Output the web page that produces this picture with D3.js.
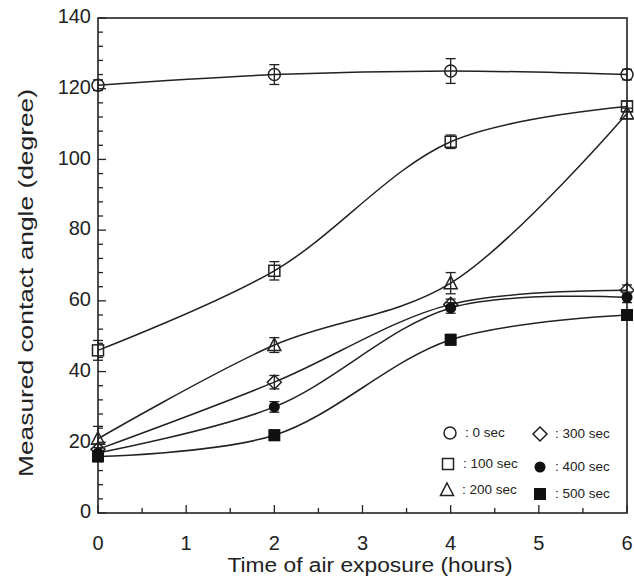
<!DOCTYPE html>
<html><head><meta charset="utf-8">
<script src="https://cdn.jsdelivr.net/npm/d3@7"></script>
<style>body{margin:0;background:#fff}svg{display:block}text{font-family:"Liberation Sans",Arial,sans-serif;fill:#222}</style>
</head><body><svg id="c" width="634" height="577"></svg>
<script>
const hours = [0, 2, 4, 6];
const seriesNames = ["0 sec", "100 sec", "200 sec", "300 sec", "400 sec", "500 sec"];
const s0   = [121, 124, 125, 124];
const s100 = [46, 68.5, 105, 115];
const s200 = [21, 47.5, 65, 113];
const s300 = [18, 37, 59, 63];
const s400 = [17, 30, 58, 61];
const s500 = [16, 22, 49, 56];
const e0   = [1.5, 2.8, 3.5, 1.5];
const e100 = [2.8, 2.6, 1.9, 1.5];
const e200 = [3.5, 2.1, 3, 1.5];
const e300 = [1.5, 1.9, 1.5, 1.5];
const e400 = [1.5, 1.5, 1.5, 1.5];
const e500 = [1.5, 1.5, 1.5, 1.5];
const xTicks = [0, 1, 2, 3, 4, 5, 6];
const yTicks = [0, 20, 40, 60, 80, 100, 120, 140];

const values = [s0, s100, s200, s300, s400, s500];
const errs = [e0, e100, e200, e300, e400, e500];
const markers = ["circle", "square", "triangle", "diamond", "dot", "fsquare"];

const svg = d3.select("#c");
const L = 98, R = 627, T = 18, B = 513;
const x = d3.scaleLinear().domain([0, 6]).range([L, R]);
const y = d3.scaleLinear().domain([0, 140]).range([B, T]);
const ink = "#222";

svg.append("rect").attr("x", L).attr("y", T).attr("width", R - L).attr("height", B - T)
  .attr("fill", "none").attr("stroke", ink).attr("stroke-width", 1.6);

d3.range(0, 6.01, 0.5).forEach(v => {
  const major = Number.isInteger(v);
  svg.append("line").attr("x1", x(v)).attr("x2", x(v)).attr("y1", B).attr("y2", B - (major ? 8 : 5))
    .attr("stroke", ink).attr("stroke-width", 1.3);
});
d3.range(0, 140.01, 4).forEach(v => {
  const major = v % 20 === 0;
  svg.append("line").attr("x1", L).attr("x2", L + (major ? 8 : 5)).attr("y1", y(v)).attr("y2", y(v))
    .attr("stroke", ink).attr("stroke-width", 1.3);
});

svg.selectAll(".xl").data(xTicks).enter().append("text")
  .attr("x", d => x(d)).attr("y", 545).attr("text-anchor", "middle").attr("dominant-baseline", "middle")
  .attr("font-size", 20).text(d => d);
svg.selectAll(".yl").data(yTicks).enter().append("text")
  .attr("x", 91).attr("y", d => y(d)).attr("text-anchor", "end").attr("dominant-baseline", "middle")
  .attr("font-size", 20).text(d => d);

svg.append("text").attr("x", 370).attr("y", 567).attr("text-anchor", "middle").attr("dominant-baseline", "middle")
  .attr("font-size", 20).attr("textLength", 285).attr("lengthAdjust", "spacingAndGlyphs")
  .text("Time of air exposure (hours)");
svg.append("text").attr("transform", "translate(28,283) rotate(-90)").attr("text-anchor", "middle")
  .attr("dominant-baseline", "middle").attr("font-size", 20).attr("textLength", 388).attr("lengthAdjust", "spacingAndGlyphs")
  .text("Measured contact angle (degree)");

const line = d3.line().x((d, i) => x(hours[i])).y(d => y(d)).curve(d3.curveCatmullRom.alpha(0.5));
values.forEach(v => {
  svg.append("path").attr("d", line(v)).attr("fill", "none").attr("stroke", ink).attr("stroke-width", 1.5);
});

values.forEach((v, si) => {
  v.forEach((d, i) => {
    const e = errs[si][i];
    const cx = x(hours[i]);
    const g = svg.append("g").attr("stroke", ink).attr("stroke-width", 1.3);
    g.append("line").attr("x1", cx).attr("x2", cx).attr("y1", y(d - e)).attr("y2", y(d + e));
    [d - e, d + e].forEach(t => g.append("line").attr("x1", cx - 5).attr("x2", cx + 5).attr("y1", y(t)).attr("y2", y(t)));
  });
});

function drawMarker(g, type, cx, cy, scale) {
  const s = scale || 1;
  if (type === "circle") g.append("circle").attr("cx", cx).attr("cy", cy).attr("r", 6 * s).attr("fill", "none").attr("stroke", ink).attr("stroke-width", 1.5);
  if (type === "square") g.append("rect").attr("x", cx - 5.5 * s).attr("y", cy - 5.5 * s).attr("width", 11 * s).attr("height", 11 * s).attr("fill", "none").attr("stroke", ink).attr("stroke-width", 1.5);
  if (type === "triangle") g.append("path").attr("d", `M${cx},${cy - 7 * s}L${cx + 6.5 * s},${cy + 5.5 * s}L${cx - 6.5 * s},${cy + 5.5 * s}Z`).attr("fill", "none").attr("stroke", ink).attr("stroke-width", 1.5);
  if (type === "diamond") g.append("path").attr("d", `M${cx},${cy - 7 * s}L${cx + 7 * s},${cy}L${cx},${cy + 7 * s}L${cx - 7 * s},${cy}Z`).attr("fill", "none").attr("stroke", ink).attr("stroke-width", 1.5);
  if (type === "dot") g.append("circle").attr("cx", cx).attr("cy", cy).attr("r", 5.5 * s).attr("fill", "#111");
  if (type === "fsquare") g.append("rect").attr("x", cx - 6 * s).attr("y", cy - 6 * s).attr("width", 12 * s).attr("height", 12 * s).attr("fill", "#111");
}

values.forEach((v, si) => {
  const g = svg.append("g");
  v.forEach((d, i) => drawMarker(g, markers[si], x(hours[i]), y(d)));
});

const legPos = [[450, 433], [448, 464], [447, 490], [540, 434], [540, 467], [540, 494]];
seriesNames.forEach((n, i) => {
  const g = svg.append("g");
  const [lx, ly] = legPos[i];
  drawMarker(g, markers[i], lx, ly, 1);
  g.append("text").attr("x", lx + 15).attr("y", ly).attr("dominant-baseline", "middle").attr("font-size", 13.5).text(": " + n);
});
</script></body></html>
